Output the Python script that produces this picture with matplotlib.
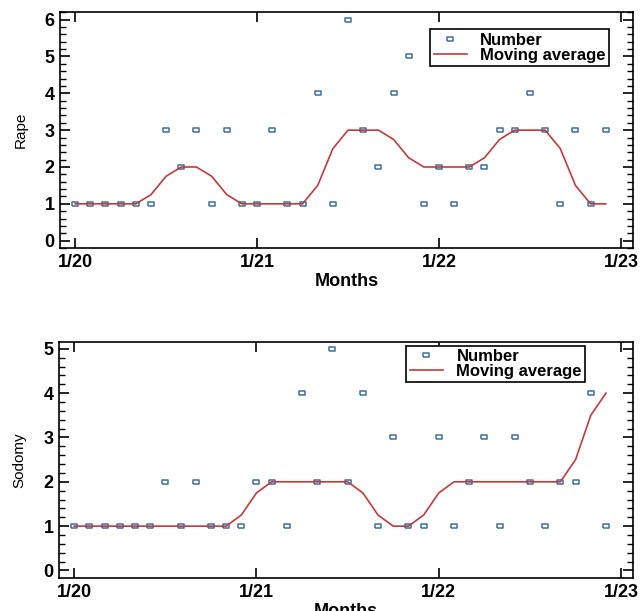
import matplotlib.pyplot as plt
from matplotlib.ticker import MultipleLocator
import numpy

# monthly counts, Jan 2020 .. Dec 2022
months = numpy.arange(36)
year_ticks = [0, 12, 24, 36]
year_labels = ["1/20", "1/21", "1/22", "1/23"]

rape = [1, 1, 1, 1, 1, 1, 3, 2, 3, 1, 3, 1, 1, 3, 1, 1, 4, 1,
        6, 3, 2, 4, 5, 1, 2, 1, 2, 2, 3, 3, 4, 3, 1, 3, 1, 3]
rape_avg = [1, 1, 1, 1, 1, 1.25, 1.75, 2, 2, 1.75, 1.25, 1, 1, 1, 1, 1, 1.5, 2.5,
            3, 3, 3, 2.75, 2.25, 2, 2, 2, 2, 2.25, 2.75, 3, 3, 3, 2.5, 1.5, 1, 1]

sodomy = [1, 1, 1, 1, 1, 1, 2, 1, 2, 1, 1, 1, 2, 2, 1, 4, 2, 5,
          2, 4, 1, 3, 1, 1, 3, 1, 2, 3, 1, 3, 2, 1, 2, 2, 4, 1]
sodomy_avg = [1, 1, 1, 1, 1, 1, 1, 1, 1, 1, 1, 1.25, 1.75, 2, 2, 2, 2, 2,
              2, 1.75, 1.25, 1, 1, 1.25, 1.75, 2, 2, 2, 2, 2, 2, 2, 2, 2.5, 3.5, 4]

plt.rcParams['font.family'] = ['Liberation Sans', 'DejaVu Sans']

box = [(-1, -0.65), (1, -0.65), (1, 0.65), (-1, 0.65), (-1, -0.65)]
dot_color = "#3f6f9f"
line_color = "#c23b3b"

fig = plt.figure(figsize=(6.41, 6.11), dpi=100)
ax1 = fig.add_axes([0.0936, 0.594, 0.894, 0.386])
ax2 = fig.add_axes([0.092, 0.054, 0.896, 0.386])


def panel(ax, y, avg, name, ylim, leg_pos):
    ax.plot(months, y, linestyle="None", marker=box, markersize=5,
            markerfacecolor="white", markeredgecolor=dot_color, markeredgewidth=1.1,
            label="Number", zorder=2)
    ax.plot(months, avg, color=line_color, lw=1.2, label="Moving average", zorder=3)
    ax.set_xlim(-1.0, 36.8)
    ax.set_ylim(*ylim)
    ax.set_xticks(year_ticks)
    ax.set_xticklabels(year_labels)
    ax.yaxis.set_major_locator(MultipleLocator(1))
    ax.yaxis.set_minor_locator(MultipleLocator(0.2))
    ax.tick_params(axis="both", which="major", direction="in", length=7, width=1.2,
                   top=True, right=True, labelsize=13, pad=4)
    ax.tick_params(axis="y", which="minor", direction="in", length=4, width=1,
                   left=True, right=True)
    for lab in ax.get_xticklabels() + ax.get_yticklabels():
        lab.set_fontweight("bold")
    for s in ax.spines.values():
        s.set_linewidth(1.2)
    ax.set_xlabel("Months", fontsize=13, fontweight="bold", labelpad=2)
    ax.set_ylabel(name, fontsize=11, family=['Liberation Sans Narrow', 'Liberation Sans'],
                  labelpad=12)
    leg = ax.legend(loc="upper left", bbox_to_anchor=leg_pos, frameon=True, fancybox=False,
                    edgecolor="black", framealpha=1, labelspacing=0.0, borderpad=0.2,
                    borderaxespad=0, handlelength=2.0, handletextpad=0.8,
                    prop={"weight": "bold", "size": 12})
    leg.get_frame().set_linewidth(1.2)


panel(ax1, rape, rape_avg, "Rape", (-0.2, 6.2), (0.646, 0.928))
panel(ax2, sodomy, sodomy_avg, "Sodomy", (-0.17, 5.15), (0.605, 0.985))

fig.savefig("out.png", dpi=100)
